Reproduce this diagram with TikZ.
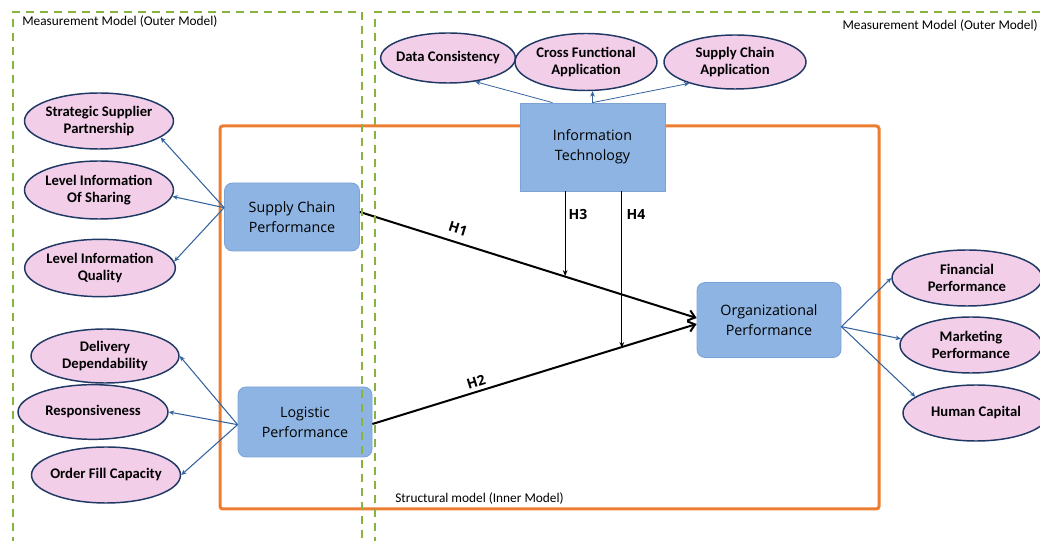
\documentclass[tikz,border=0pt]{standalone}
\usepackage{fontspec}
\setmainfont{Carlito}
\newfontfamily\boxfont{Open Sans}
\usetikzlibrary{shapes.geometric,arrows.meta,calc}

\definecolor{itemfill}{RGB}{242,206,233}
\definecolor{itemline}{RGB}{32,56,100}
\definecolor{boxfill}{RGB}{141,180,226}
\definecolor{boxline}{RGB}{124,163,214}
\definecolor{loadblue}{RGB}{52,100,160}
\definecolor{outergreen}{RGB}{138,178,62}
\definecolor{innerorange}{RGB}{237,125,49}

\tikzset{
    item/.style={ellipse, draw=itemline, fill=itemfill, line width=1.1pt,
        inner xsep=-14pt, inner ysep=0pt, align=center,
        font=\bfseries\fontsize{11}{12.75}\selectfont},
    construct/.style={rectangle, rounded corners=6pt, draw=boxline, fill=boxfill,
        line width=0.6pt, align=center, font=\boxfont\fontsize{10.7}{15}\selectfont},
    load/.style={draw=loadblue, line width=0.8pt, -{Stealth[length=4pt,width=3.5pt]}},
    hyp/.style={line width=1.5pt, -{Straight Barb[length=5pt,width=8pt]}},
    moder/.style={line width=0.8pt, -{Stealth[length=4.5pt,width=3.5pt]}},
    hlabel/.style={font=\boxfont\bfseries\fontsize{10.5}{12}\selectfont, inner sep=1pt},
    outerbox/.style={draw=outergreen, line width=1.6pt, dash pattern=on 6pt off 4.5pt},
    boxcap/.style={inner sep=0pt, font=\fontsize{10}{12}\selectfont}
}

\begin{document}
\begin{tikzpicture}[x=0.75pt, y=-0.75pt]
    \useasboundingbox (0,0) rectangle (1040,541);

    % inner model frame
    \draw[innerorange, line width=2.25pt, rounded corners=2pt] (220,126) rectangle (879,509);
    \node[boxcap, anchor=west] (innercap) at (395,499) {Structural model (Inner Model)};

    % constructs
    \node[construct, minimum width=101.25pt, minimum height=51pt] (scp) at (292,217) {Supply Chain\\Performance};
    \node[construct, minimum width=100.5pt, minimum height=52.5pt] (lp) at (305,422) {Logistic\\Performance};
    \node[construct, rounded corners=0pt, minimum width=108.75pt, minimum height=66pt] (it) at (592.5,147) {Information\\Technology};
    \node[construct, minimum width=108pt, minimum height=56.25pt] (op) at (769,320) {Organizational\\Performance};

    % indicators
    \node[item, minimum width=111.75pt, minimum height=42pt] (ssp) at (99,121) {Strategic Supplier\\Partnership};
    \node[item, minimum width=111.75pt, minimum height=43.5pt] (lis) at (99,190) {Level Information\\Of Sharing};
    \node[item, minimum width=113pt, minimum height=43pt] (liq) at (100,268) {Level Information\\Quality};
    \node[item, minimum width=111pt, minimum height=40.5pt] (dd) at (105,356) {Delivery\\Dependability};
    \node[item, minimum width=112.5pt, minimum height=41pt] (resp) at (93,412) {Responsiveness};
    \node[item, minimum width=111.75pt, minimum height=42pt] (ofc) at (106,475) {Order Fill Capacity};
    \node[item, minimum width=101pt, minimum height=37.5pt] (dc) at (448,58) {Data Consistency};
    \node[item, minimum width=106.5pt, minimum height=42.75pt] (cfa) at (586,62) {Cross Functional\\Application};
    \node[item, minimum width=106.5pt, minimum height=40.5pt] (sca) at (735,62) {Supply Chain\\Application};
    \node[item, minimum width=112.5pt, minimum height=42pt] (fin) at (967,278) {Financial\\Performance};
    \node[item, minimum width=106.5pt, minimum height=42pt] (mkt) at (971,345) {Marketing\\Performance};
    \node[item, minimum width=109.5pt, minimum height=42pt] (hc) at (976,413) {Human Capital};

    % loadings
    \coordinate (scp-o) at ([yshift=7pt]scp.west);
    \coordinate (lp-o) at ([yshift=-2pt]lp.west);
    \coordinate (op-o) at ([yshift=-5pt]op.east);
    \draw[load] (scp-o) -- (ssp.-15);
    \draw[load] (scp-o) -- (lis.-5);
    \draw[load] (scp-o) -- (liq.5);
    \draw[load] (lp-o) -- (dd.east);
    \draw[load] (lp-o) -- (resp.east);
    \draw[load] (lp-o) -- (ofc.east);
    \draw[load, line width=0.6pt] ([xshift=-30pt]it.north) -- (dc.-41);
    \draw[load, line width=0.6pt] (it.north) -- (cfa.south -| it.north);
    \draw[load, line width=0.6pt] (it.north) -- (sca.-155);
    \draw[load] (op-o) -- (fin.west);
    \draw[load] (op-o) -- (mkt.175);
    \draw[load] (op-o) -- (hc.165);

    % hypotheses
    \coordinate (h1s) at ([yshift=3.75pt]scp.east);
    \coordinate (h1e) at ([yshift=1.5pt]op.west);
    \coordinate (h2s) at ([yshift=-1.5pt]lp.east);
    \coordinate (h2e) at ([yshift=-3pt]op.west);
    \draw[hyp] (h1s) -- (h1e);
    \draw[hyp] (h2s) -- (h2e);
    \node[hlabel, rotate=-17.3] (h1lab) at (458,229) {H1};
    \node[hlabel, rotate=17.4] (h2lab) at (476,382) {H2};

    \coordinate (h3s) at ([xshift=-20.5pt]it.south);
    \coordinate (h3e) at ($(h1s)!0.605!(h1e)$);
    \coordinate (h4s) at ([xshift=22pt]it.south);
    \coordinate (h4e) at ($(h2s)!0.76!(h2e)$);
    \draw[moder] (h3s) -- (h3s |- h3e);
    \draw[moder] (h4s) -- (h4s |- h4e);
    \node[hlabel, anchor=west] (h3lab) at (567,215) {H3};
    \node[hlabel, anchor=west] (h4lab) at (625,215) {H4};

    % outer model frames
    \draw[outerbox] (13,545) -- (13,12) -- (362,12) -- (362,545);
    \draw[outerbox] (375,545) -- (375,12) -- (1045,12);
    \node[boxcap, anchor=west] (outerl) at (22,22) {Measurement Model (Outer Model)};
    \node[boxcap, anchor=east] (outerr) at (1038,26) {Measurement Model (Outer Model)};
\end{tikzpicture}
\end{document}
